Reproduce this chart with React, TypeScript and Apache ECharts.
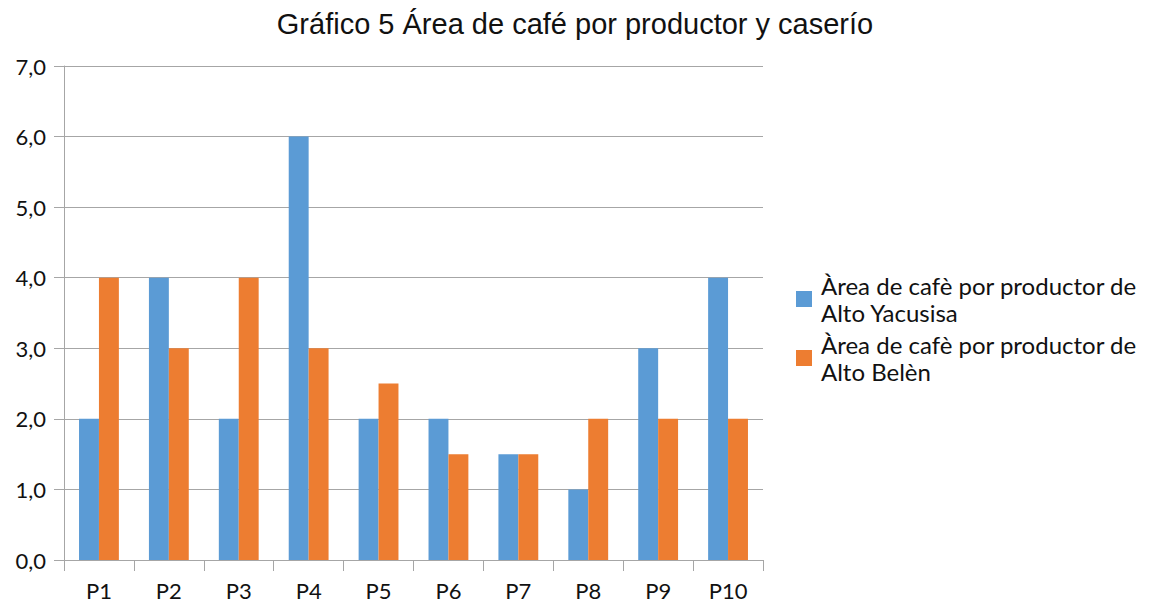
import React, { useEffect, useRef } from "react";
import * as echarts from "echarts";

const categories = ["P1", "P2", "P3", "P4", "P5", "P6", "P7", "P8", "P9", "P10"];
const yacusisa = [2, 4, 2, 6, 2, 2, 1.5, 1, 3, 4];
const belen = [4, 3, 4, 3, 2.5, 1.5, 1.5, 2, 2, 2];
const seriesNames = [
  "Àrea de cafè por productor de Alto Yacusisa",
  "Àrea de cafè por productor de Alto Belèn",
];
const titleText = "Gráfico 5 Área de café por productor y caserío";

export default function App() {
  const ref = useRef<HTMLDivElement>(null);
  useEffect(() => {
    if (!ref.current) return;
    const chart = echarts.init(ref.current, null, { renderer: "svg" });
    const axisColor = "#a6a6a6";
    chart.setOption({
      animation: false,
      backgroundColor: "#ffffff",
      title: {
        text: titleText,
        left: 575,
        textAlign: "center",
        top: 9,
        padding: 0,
        textStyle: { fontFamily: "Liberation Sans", fontSize: 29, fontWeight: "normal", color: "#111" },
      },
      legend: {
        orient: "vertical",
        left: 796,
        top: 272,
        padding: 0,
        itemWidth: 16,
        itemHeight: 16,
        itemGap: 5,
        icon: "rect",
        formatter: (name: string) => name.replace(" de Alto ", " de\nAlto "),
        textStyle: { fontFamily: "Lato", fontSize: 24, color: "#111", lineHeight: 27, padding: [0, 0, 0, 4] },
        data: seriesNames,
      },
      grid: { left: 64, right: 388, top: 66, bottom: 42, containLabel: false },
      xAxis: {
        type: "category",
        data: categories,
        axisLine: { lineStyle: { color: axisColor } },
        axisTick: { show: true, length: 11, lineStyle: { color: axisColor } },
        axisLabel: { fontFamily: "Lato", fontSize: 22, color: "#111", margin: 19 },
      },
      yAxis: {
        type: "value",
        min: 0,
        max: 7,
        interval: 1,
        axisLine: { show: true, lineStyle: { color: axisColor } },
        axisTick: { show: true, length: 10, lineStyle: { color: axisColor } },
        splitLine: { lineStyle: { color: axisColor } },
        axisLabel: {
          fontFamily: "Lato",
          fontSize: 22,
          color: "#111",
          margin: 18,
          formatter: (v: number) => v.toFixed(1).replace(".", ","),
        },
      },
      series: [
        {
          name: seriesNames[0],
          type: "bar",
          data: yacusisa,
          itemStyle: { color: "#5B9BD5" },
          barGap: "0%",
          barCategoryGap: "43%",
        },
        {
          name: seriesNames[1],
          type: "bar",
          data: belen,
          itemStyle: { color: "#ED7D31" },
          barGap: "0%",
          barCategoryGap: "43%",
        },
      ],
    });
    return () => chart.dispose();
  }, []);
  return <div ref={ref} style={{ width: 1151, height: 602, position: "absolute", left: 0, top: 0 }} />;
}
